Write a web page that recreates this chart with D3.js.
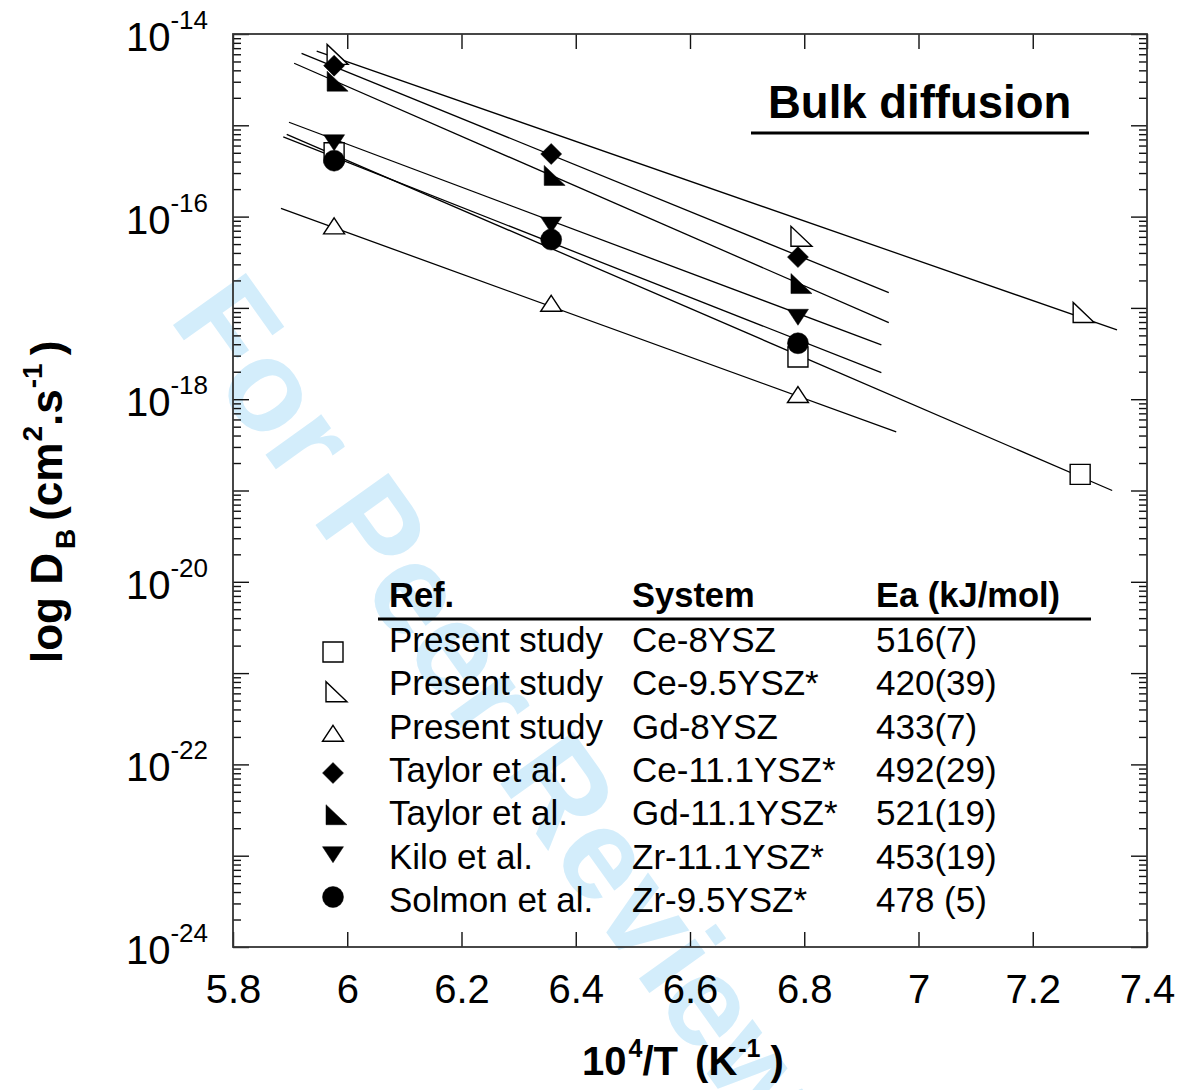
<!DOCTYPE html>
<html><head><meta charset="utf-8">
<script src="https://cdn.jsdelivr.net/npm/d3@7"></script>
<style>
body{margin:0;background:#fff}
svg text{font-family:"Liberation Sans",Arial,Helvetica,sans-serif;fill:#000}
</style>
</head><body>
<svg id="chart" width="1184" height="1090"></svg>
<script>
// ---------- data ----------
const xTickValues = [5.8, 6, 6.2, 6.4, 6.6, 6.8, 7, 7.2, 7.4];
const xTickLabels = ["5.8", "6", "6.2", "6.4", "6.6", "6.8", "7", "7.2", "7.4"];
const yLabelExponents = [-14, -16, -18, -20, -22, -24];

const refNames = ["Present study", "Present study", "Present study", "Taylor et al.", "Taylor et al.", "Kilo et al.", "Solmon et al."];
const systemNames = ["Ce-8YSZ", "Ce-9.5YSZ*", "Gd-8YSZ", "Ce-11.1YSZ*", "Gd-11.1YSZ*", "Zr-11.1YSZ*", "Zr-9.5YSZ*"];
const eaLabels = ["516(7)", "420(39)", "433(7)", "492(29)", "521(19)", "453(19)", "478 (5)"];
const tableHeaders = ["Ref.", "System", "Ea (kJ/mol)"];

// measured points (x = 10^4/T, D in cm2/s)
const ce8_x = [5.977, 6.789, 7.283];
const ce8_D = [5.0e-16, 2.9e-18, 1.5e-19];
const ce95_x = [5.977, 6.789, 7.283];
const ce95_D = [5.5e-15, 5.6e-17, 8.2e-18];
const gd8_x = [5.977, 6.357, 6.789];
const gd8_D = [7.4e-17, 1.05e-17, 1.05e-18];
const ce111_x = [5.977, 6.357, 6.789];
const ce111_D = [4.5e-15, 4.85e-16, 3.6e-17];
const gd111_x = [5.977, 6.357, 6.789];
const gd111_D = [2.8e-15, 2.6e-16, 1.7e-17];
const zr111_x = [5.977, 6.357, 6.789];
const zr111_D = [6.9e-16, 8.65e-17, 8.45e-18];
const zr95_x = [5.977, 6.357, 6.789];
const zr95_D = [4.1e-16, 5.6e-17, 4.1e-18];

// Arrhenius fit lines (start / end)
const ce8_fitX = [5.894, 7.339];
const ce8_fitD = [7.96e-16, 1.0e-19];
const ce95_fitX = [5.9465, 7.3475];
const ce95_fitD = [6.5e-15, 5.73e-18];
const gd8_fitX = [5.884, 6.961];
const gd8_fitD = [1.23e-16, 4.38e-19];
const ce111_fitX = [5.920, 6.948];
const ce111_fitD = [6.15e-15, 1.47e-17];
const gd111_fitX = [5.907, 6.948];
const gd111_fitD = [4.78e-15, 6.89e-18];
const zr111_fitX = [5.898, 6.935];
const zr111_fitD = [1.08e-15, 3.93e-18];
const zr95_fitX = [5.888, 6.935];
const zr95_fitD = [7.45e-16, 1.95e-18];

// ---------- assemble ----------
const symbolTypes = ["square", "rtriOpen", "triUp", "diamond", "rtriFill", "triDown", "circle"];
const series = [
  {x: ce8_x, D: ce8_D, fx: ce8_fitX, fD: ce8_fitD},
  {x: ce95_x, D: ce95_D, fx: ce95_fitX, fD: ce95_fitD},
  {x: gd8_x, D: gd8_D, fx: gd8_fitX, fD: gd8_fitD},
  {x: ce111_x, D: ce111_D, fx: ce111_fitX, fD: ce111_fitD},
  {x: gd111_x, D: gd111_D, fx: gd111_fitX, fD: gd111_fitD},
  {x: zr111_x, D: zr111_D, fx: zr111_fitX, fD: zr111_fitD},
  {x: zr95_x, D: zr95_D, fx: zr95_fitX, fD: zr95_fitD}
].map((s, i) => Object.assign(s, {sym: symbolTypes[i], ref: refNames[i], sys: systemNames[i], ea: eaLabels[i]}));

// ---------- layout ----------
const L = 233, R = 1147, T = 34, B = 947;
const svg = d3.select("#chart");
const x = d3.scaleLinear().domain([5.8, 7.4]).range([L, R]);
const y = d3.scaleLog().domain([1e-24, 1e-14]).range([B, T]);

// watermark
svg.append("text")
  .attr("transform", "translate(168,318) rotate(54.5)")
  .attr("font-size", 130).attr("font-weight", "bold")
  .style("fill", "#d3edfb")
  .text("For Peer Review");

// symbol paths (centred on data point)
function symPath(type) {
  switch (type) {
    case "square": return "M-10,-10H10V10H-10Z";
    case "circle": return "M-10.5,0A10.5,10.5 0 1,0 10.5,0A10.5,10.5 0 1,0 -10.5,0Z";
    case "diamond": return "M0,-10.5L10.5,0L0,10.5L-10.5,0Z";
    case "triUp": return "M0,-10.7L10.5,5.3L-10.5,5.3Z";
    case "triDown": return "M0,10.7L10.5,-5.3L-10.5,-5.3Z";
    case "rtriOpen":
    case "rtriFill": return "M-7,-13.3L-7,6.7L14,6.7Z";
  }
}
const isFilled = t => (t === "diamond" || t === "rtriFill" || t === "triDown" || t === "circle");

// fit lines
const line = d3.line().x(d => x(d[0])).y(d => y(d[1]));
svg.append("g").selectAll("path").data(series).join("path")
  .attr("d", s => line(s.fx.map((v, i) => [v, s.fD[i]])))
  .attr("fill", "none").attr("stroke", "#000").attr("stroke-width", 1.3);

// markers
series.forEach(s => {
  svg.append("g").selectAll("path").data(s.x.map((v, i) => [v, s.D[i]])).join("path")
    .attr("transform", d => `translate(${x(d[0])},${y(d[1])})`)
    .attr("d", symPath(s.sym))
    .attr("fill", isFilled(s.sym) ? "#000" : "#fff")
    .attr("stroke", "#000").attr("stroke-width", isFilled(s.sym) ? 0.5 : 1.4);
});

// axes
const fontAxis = 40;
const gx = svg.append("g").attr("transform", `translate(0,${B})`)
  .call(d3.axisBottom(x).tickValues(xTickValues).tickSizeInner(-15).tickSizeOuter(0).tickPadding(28)
    .tickFormat((d, i) => xTickLabels[i]));
gx.selectAll("text").attr("font-size", fontAxis).style("font-family", "'Liberation Sans',Arial,sans-serif");
svg.append("g").attr("transform", `translate(0,${T})`)
  .call(d3.axisTop(x).tickValues(xTickValues).tickSizeInner(-15).tickSizeOuter(0).tickFormat(""));

const majorY = d3.range(-24, -13).map(e => Math.pow(10, e));
const minorY = [];
d3.range(-24, -14).forEach(e => { for (let k = 2; k <= 9; k++) minorY.push(k * Math.pow(10, e)); });

const gyl = svg.append("g").attr("transform", `translate(${L},0)`)
  .call(d3.axisLeft(y).tickValues(majorY).tickSizeInner(-16).tickSizeOuter(0).tickPadding(24).tickFormat(""));
svg.append("g").attr("transform", `translate(${L},0)`)
  .call(d3.axisLeft(y).tickValues(minorY).tickSizeInner(-8).tickSizeOuter(0).tickFormat(""));
svg.append("g").attr("transform", `translate(${R},0)`)
  .call(d3.axisRight(y).tickValues(majorY).tickSizeInner(-16).tickSizeOuter(0).tickFormat(""));
svg.append("g").attr("transform", `translate(${R},0)`)
  .call(d3.axisRight(y).tickValues(minorY).tickSizeInner(-8).tickSizeOuter(0).tickFormat(""));

// y tick labels with superscripts
gyl.selectAll(".tick").each(function(d) {
  const e = Math.round(Math.log10(d));
  if (!yLabelExponents.includes(e)) return;
  const t = d3.select(this).select("text");
  t.attr("dy", null).attr("y", 16.5).attr("x", -25).attr("font-size", fontAxis)
    .style("font-family", "'Liberation Sans',Arial,sans-serif").attr("text-anchor", "end");
  t.append("tspan").text("10");
  t.append("tspan").attr("dy", -22).attr("font-size", 26).text(String(e));
});

svg.selectAll(".domain").remove();
svg.selectAll(".tick line").attr("stroke", "#111").attr("stroke-width", 1.4);

// frame
svg.append("rect").attr("x", L).attr("y", T).attr("width", R - L).attr("height", B - T)
  .attr("fill", "none").attr("stroke", "#333").attr("stroke-width", 1.8);

// axis titles
const xt = svg.append("text").attr("x", 582).attr("y", 1075).attr("font-size", 40).attr("font-weight", "bold");
xt.append("tspan").text("10");
xt.append("tspan").attr("dy", -18).attr("dx", 2).attr("font-size", 25).text("4");
xt.append("tspan").attr("dy", 18).text("/T");
xt.append("tspan").attr("dx", 6).text(" (K");
xt.append("tspan").attr("dy", -18).attr("dx", 1).attr("font-size", 25).text("-1");
xt.append("tspan").attr("dy", 18).attr("dx", 10).text(")");

const yt = svg.append("text").attr("transform", "translate(62,663) rotate(-90)").attr("font-size", 44).attr("font-weight", "bold");
yt.append("tspan").text("log D");
yt.append("tspan").attr("dy", 13).attr("dx", 4).attr("font-size", 28).text("B");
yt.append("tspan").attr("dy", -13).attr("dx", 8).text("(cm");
yt.append("tspan").attr("dy", -20).attr("dx", 1).attr("font-size", 28).text("2");
yt.append("tspan").attr("dy", 20).text(".s");
yt.append("tspan").attr("dy", -20).attr("dx", 1).attr("font-size", 28).text("-1");
yt.append("tspan").attr("dy", 20).attr("dx", 8).text(")");

// title
svg.append("text").attr("x", 768).attr("y", 118).attr("font-size", 45.5).attr("font-weight", "bold").text("Bulk diffusion");
svg.append("line").attr("x1", 751).attr("x2", 1089).attr("y1", 133).attr("y2", 133).attr("stroke", "#000").attr("stroke-width", 3);

// legend table
const colX = [389, 632, 876];
svg.append("g").selectAll("text").data(tableHeaders).join("text")
  .attr("x", (d, i) => colX[i]).attr("y", 607).attr("font-size", 34.5).attr("font-weight", "bold").text(d => d);
svg.append("line").attr("x1", 378).attr("x2", 1091).attr("y1", 619).attr("y2", 619).attr("stroke", "#000").attr("stroke-width", 3);

const rows = svg.append("g").selectAll("g").data(series).join("g");
rows.append("text").attr("x", colX[0]).attr("y", (d, i) => 652 + i * 43.3).attr("font-size", 35).text(d => d.ref);
rows.append("text").attr("x", colX[1]).attr("y", (d, i) => 652 + i * 43.3).attr("font-size", 35).text(d => d.sys);
rows.append("text").attr("x", colX[2]).attr("y", (d, i) => 652 + i * 43.3).attr("font-size", 35).text(d => d.ea);
const symY = [652, 695, 736, 773, 818, 852, 897];
rows.append("path")
  .attr("transform", (d, i) => `translate(333,${symY[i]})`)
  .attr("d", d => symPath(d.sym))
  .attr("fill", d => isFilled(d.sym) ? "#000" : "#fff")
  .attr("stroke", "#000").attr("stroke-width", d => isFilled(d.sym) ? 0.5 : 1.4);
</script>
</body></html>
